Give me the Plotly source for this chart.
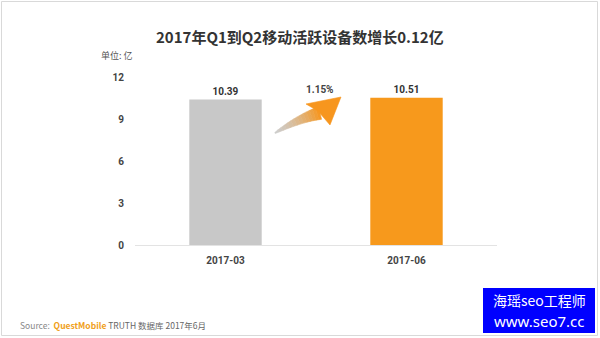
import plotly.graph_objects as go

categories = ["2017-03", "2017-06"]
values = [10.39, 10.51]
bar_colors = ["#c8c8c8", "#f7991c"]
growth_label = "1.15%"
y_ticks = [0, 3, 6, 9, 12]
title_text = "2017年Q1到Q2移动活跃设备数增长0.12亿"
unit_text = "单位: 亿"

W, H = 600, 338
L, R, T, B = 135, 103, 77, 93
PW, PH = W - L - R, H - T - B


def px(x):
    return (x - L) / PW


def py(y):
    return (H - B - y) / PH


fig = go.Figure()
fig.add_trace(go.Bar(
    x=categories, y=values, width=0.4,
    marker=dict(color=bar_colors, line=dict(width=0)),
    text=[f"<b>{v:.2f}</b>" for v in values], textposition="outside",
    textfont=dict(family="Roboto", size=10, color="#333"),
    cliponaxis=False, hoverinfo="skip",
))

shapes = []
# frame
shapes.append(dict(type="rect", xref="paper", yref="paper",
                   x0=px(1.5), x1=px(597.5), y0=py(1.5), y1=py(335.5),
                   line=dict(color="#d9d9d9", width=1), fillcolor="rgba(0,0,0,0)", layer="below"))

# gradient arrow (decoration)
def lerp(a, b, t):
    return a + (b - a) * t


def bez(t, p0, p1, p2):
    return ((1 - t) ** 2 * p0[0] + 2 * (1 - t) * t * p1[0] + t * t * p2[0],
            (1 - t) ** 2 * p0[1] + 2 * (1 - t) * t * p1[1] + t * t * p2[1])


P0, P1, P2 = (275, 133), (300, 118), (320, 113)
c0, c1 = (205, 205, 205), (247, 150, 30)
N = 14
pts_up, pts_dn = [], []
for i in range(N + 1):
    t = i / N
    x, y = bez(t, P0, P1, P2)
    dx = 2 * (1 - t) * (P1[0] - P0[0]) + 2 * t * (P2[0] - P1[0])
    dy = 2 * (1 - t) * (P1[1] - P0[1]) + 2 * t * (P2[1] - P1[1])
    n = (dx * dx + dy * dy) ** 0.5
    nx, ny = -dy / n, dx / n
    w = lerp(0.5, 6.5, t ** 0.8)
    pts_up.append((x - nx * w, y - ny * w))
    pts_dn.append((x + nx * w, y + ny * w))
for i in range(N):
    t = (i + 0.5) / N
    col = "rgb(%d,%d,%d)" % tuple(int(lerp(c0[k], c1[k], t ** 1.3)) for k in range(3))
    q = [pts_up[i], pts_up[i + 1], pts_dn[i + 1], pts_dn[i]]
    path = "M " + " L ".join(f"{px(a):.5f},{py(b):.5f}" for a, b in q) + " Z"
    shapes.append(dict(type="path", xref="paper", yref="paper", path=path,
                       fillcolor=col, line=dict(width=0.6, color=col)))
head = [(341, 97), (306, 104), (318, 111), (330, 125)]
path = "M " + " L ".join(f"{px(a):.5f},{py(b):.5f}" for a, b in head) + " Z"
shapes.append(dict(type="path", xref="paper", yref="paper", path=path,
                   fillcolor="#f7961e", line=dict(width=0.6, color="#f7961e")))

# watermark box
shapes.append(dict(type="rect", xref="paper", yref="paper",
                   x0=px(483), x1=px(595), y0=py(288), y1=py(333),
                   fillcolor="#0000ff", line=dict(width=0)))

annotations = [
    dict(text=f"<b>{title_text}</b>", x=px(300), y=py(37), xref="paper", yref="paper",
         showarrow=False, xanchor="center", yanchor="middle",
         font=dict(family="Noto Sans CJK SC", size=15, color="#333")),
    dict(text=unit_text, x=px(135), y=py(55), xref="paper", yref="paper",
         showarrow=False, xanchor="right", yanchor="middle",
         font=dict(family="Noto Sans CJK SC", size=9, color="#555")),
    dict(text=f"<b>{growth_label}</b>", x=px(320), y=py(90), xref="paper", yref="paper",
         showarrow=False, xanchor="center", yanchor="middle",
         font=dict(family="Roboto", size=10, color="#444")),
    dict(text="<span style='color:#888'>Source:  </span><b><span style='color:#f0a020'>QuestMobile</span></b>"
              "<span style='color:#666'> TRUTH 数据库 2017年6月</span>",
         x=px(18), y=py(325), xref="paper", yref="paper",
         showarrow=False, xanchor="left", yanchor="middle",
         font=dict(family="Noto Sans CJK SC", size=8.5, color="#666")),
    dict(text="海瑶seo工程师", x=px(539), y=py(300), xref="paper", yref="paper",
         showarrow=False, xanchor="center", yanchor="middle",
         font=dict(family="Noto Sans CJK SC", size=14, color="#ffffff")),
    dict(text="www.seo7.cc", x=px(539), y=py(321), xref="paper", yref="paper",
         showarrow=False, xanchor="center", yanchor="middle",
         font=dict(family="Noto Sans", size=15, color="#ffffff")),
]

fig.update_layout(
    width=W, height=H, margin=dict(l=L, r=R, t=T, b=B, pad=0),
    paper_bgcolor="white", plot_bgcolor="white",
    showlegend=False, bargap=0.6,
    shapes=shapes, annotations=annotations,
    xaxis=dict(type="category", range=[-0.5, 1.5], showgrid=False, zeroline=False,
               showline=True, linecolor="#e3e3e3", linewidth=1, ticks="",
               ticklabelstandoff=6,
               tickfont=dict(family="Roboto", size=10, color="#444", weight="bold")),
    yaxis=dict(range=[0, 12], tickvals=y_ticks, showgrid=False, zeroline=False,
               showline=False, ticks="", ticklabelstandoff=10,
               tickfont=dict(family="Roboto", size=10, color="#444", weight="bold")),
)

fig.write_html("out.html")
